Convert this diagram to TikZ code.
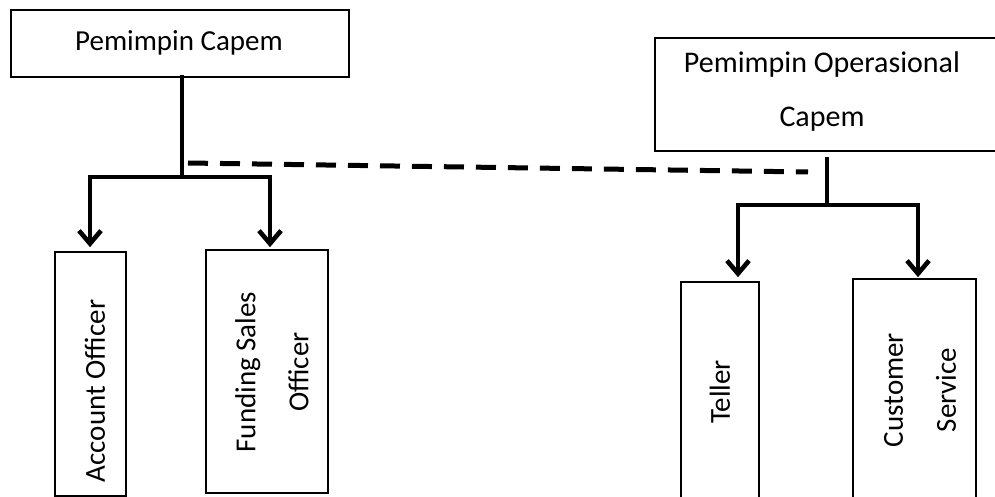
\documentclass[tikz,border=0pt]{standalone}
\usepackage{fontspec}
\setmainfont{Carlito}
\usetikzlibrary{arrows.meta}
\begin{document}
\begin{tikzpicture}[x=1pt,y=-1pt,
  box/.style={draw,line width=1.6pt,rectangle,inner sep=0pt},
  lbl/.style={inner sep=0pt,font=\fontsize{29}{53}\selectfont,align=center},
  vlbl/.style={lbl,rotate=90},
  solidln/.style={line width=4.6pt,line cap=rect},
  arrowln/.style={line width=4.6pt,-{Straight Barb[length=13pt,width=22pt]}},
  dashln/.style={line width=5pt,dash pattern=on 20pt off 12pt}]
\useasboundingbox (0,0) rectangle (995,497);
\clip (0,0) rectangle (995,497);
% boxes
\node[box,minimum width=338pt,minimum height=67pt] (PC) at (180,43.5) {};
\node[box,minimum width=344pt,minimum height=113pt] (OP) at (827,94.5) {};
\node[box,minimum width=71pt,minimum height=244pt] (AO) at (90.5,374) {};
\node[box,minimum width=122pt,minimum height=243pt] (FS) at (267,371.5) {};
\node[box,minimum width=78pt,minimum height=250pt] (TE) at (720,407) {};
\node[box,minimum width=123pt,minimum height=253pt] (CS) at (914.5,405.5) {};
% texts
\node[lbl] (tPC) at (179,43) {Pemimpin Capem};
\node[lbl,font=\fontsize{30}{54}\selectfont] (tOP) at (822,92) {Pemimpin Operasional\\Capem};
\node[vlbl] (tAO) at (95,391) {Account Officer};
\node[vlbl] (tFS) at (272,372) {Funding Sales\\Officer};
\node[vlbl] (tTE) at (720,392) {Teller};
\node[vlbl] (tCS) at (920,390) {Customer\\Service};
% junctions
\coordinate (jPC) at (182,177);
\coordinate (jL) at (90,177);
\coordinate (jR) at (270,177);
\coordinate (jOP) at (827,205);
\coordinate (jT) at (738,205);
\coordinate (jC) at (918,205);
\coordinate (dS) at (188,163);
\coordinate (dE) at (808,172);
% connectors left
\draw[solidln] ([xshift=2pt]PC.south) -- (jPC);
\draw[solidln] (jL) -- (jR);
\draw[arrowln,shorten >=4pt] (jL) -- (jL |- AO.north);
\draw[arrowln,shorten >=2pt] (jR) -- (jR |- FS.north);
% connectors right
\draw[solidln,line cap=butt] ([yshift=-5pt]OP.south) -- (jOP);
\draw[solidln] (jT) -- (jC);
\draw[arrowln,shorten >=4pt] (jT) -- (jT |- TE.north);
\draw[arrowln,shorten >=1pt] (jC) -- (jC |- CS.north);
% dashed link
\draw[dashln] (dS) -- (dE);
\end{tikzpicture}
\end{document}
